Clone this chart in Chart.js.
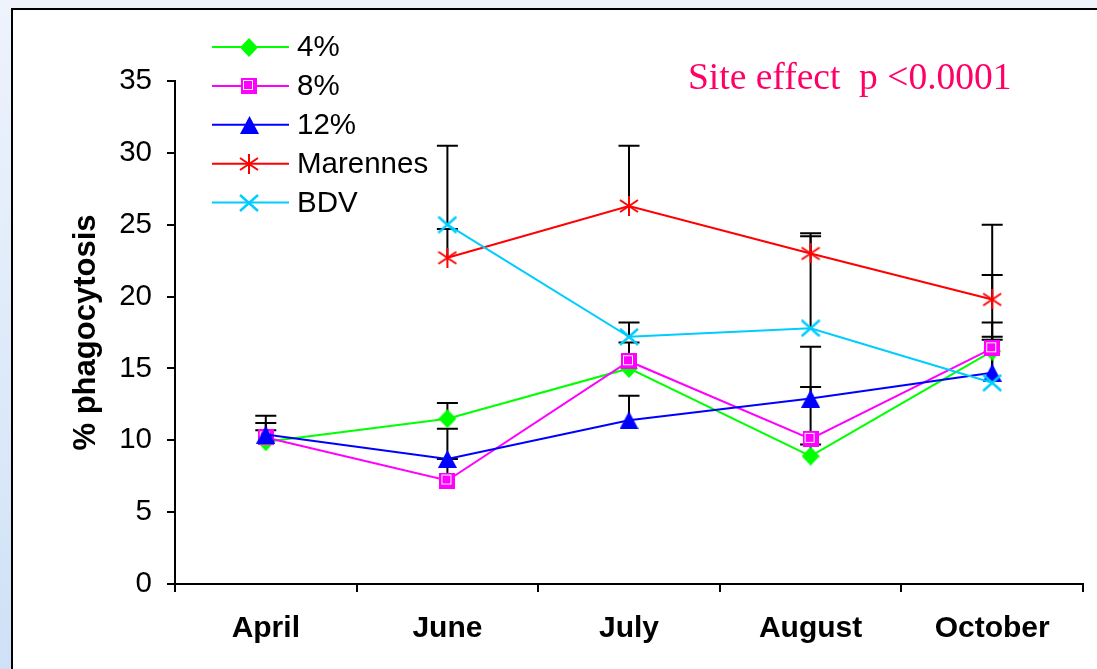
<!DOCTYPE html>
<html lang="en">
<head>
  <meta charset="UTF-8">
  <title>% phagocytosis by month</title>
  <style>
    html, body { margin: 0; padding: 0; width: 1097px; height: 669px; overflow: hidden; }
    body { background: linear-gradient(to bottom, #eef3fc 0%, #dce9f9 60%, #cfe1f7 100%); position: relative; }
    #frame { position: absolute; left: 11px; top: 8px; width: 1200px; height: 800px; background: #fff; border: 2px solid #000; box-shadow: 1px 1px 1px #888; }
    #chart { position: absolute; left: 0; top: 0; }
  </style>
</head>
<body>
  <div id="frame"></div>
  <canvas id="chart" width="1097" height="669"></canvas>

  <script src="https://cdn.jsdelivr.net/npm/chart.js"></script>
  <script>
    // values
    const months = ['April', 'June', 'July', 'August', 'October'];
    const yTicks = [0, 5, 10, 15, 20, 25, 30, 35];

    const pct4 = [9.9, 11.5, 15.0, 8.9, 16.2];
    const pct8 = [10.2, 7.2, 15.5, 10.1, 16.4];
    const pct12 = [10.4, 8.7, 11.4, 12.9, 14.7];
    const marennes = [null, 22.7, 26.3, 23.0, 19.8];
    const bdv = [null, 25.0, 17.2, 17.8, 14.0];

    // top of the (upper) error bars
    const err4 = [11.2, 12.6, null, 9.7, 17.0];
    const err8 = [10.7, 8.7, 16.8, 13.7, 17.2];
    const err12 = [11.7, 10.8, 13.1, 16.5, 18.2];
    const errMarennes = [null, 24.7, 30.5, 24.4, 25.0];
    const errBdv = [null, 30.5, 18.2, 24.2, 21.5];

    const noteText = 'Site effect  p <0.0001';

    Chart.defaults.font.family = '"Liberation Sans", Arial, sans-serif';
    Chart.defaults.color = '#000';

    // marker images (excel style)
    function makeMarker(w, h, draw) {
      const c = document.createElement('canvas');
      c.width = w; c.height = h;
      draw(c.getContext('2d'));
      return c;
    }
    const diamond = makeMarker(18, 19, g => {
      g.fillStyle = '#00ff00';
      g.beginPath(); g.moveTo(9, 0); g.lineTo(18, 9.5); g.lineTo(9, 19); g.lineTo(0, 9.5); g.closePath(); g.fill();
    });
    const square = makeMarker(16, 16, g => {
      g.fillStyle = '#ff00ff'; g.fillRect(0, 0, 16, 16);
      g.strokeStyle = '#fff'; g.lineWidth = 1; g.strokeRect(2.5, 2.5, 9, 9);
    });
    const triangle = makeMarker(19, 18, g => {
      g.fillStyle = '#0000ff';
      g.beginPath(); g.moveTo(9.5, 0); g.lineTo(19, 18); g.lineTo(0, 18); g.closePath(); g.fill();
    });
    const star = makeMarker(20, 20, g => {
      g.strokeStyle = '#ff0000'; g.lineWidth = 2;
      g.beginPath();
      g.moveTo(1, 4); g.lineTo(19, 16);
      g.moveTo(1, 16); g.lineTo(19, 4);
      g.moveTo(10, 0); g.lineTo(10, 20);
      g.stroke();
    });
    const cross = makeMarker(20, 18, g => {
      g.strokeStyle = '#00ccff'; g.lineWidth = 2.4;
      g.beginPath();
      g.moveTo(1, 1); g.lineTo(19, 17);
      g.moveTo(1, 17); g.lineTo(19, 1);
      g.stroke();
    });

    const series = [
      { label: '4%', data: pct4, err: err4, color: '#00ff00', marker: diamond },
      { label: '8%', data: pct8, err: err8, color: '#ff00ff', marker: square },
      { label: '12%', data: pct12, err: err12, color: '#0000ff', marker: triangle },
      { label: 'Marennes', data: marennes, err: errMarennes, color: '#ff0000', marker: star },
      { label: 'BDV', data: bdv, err: errBdv, color: '#00ccff', marker: cross }
    ];

    // error bars, drawn under the lines
    const errorBars = {
      id: 'errorBars',
      beforeDatasetsDraw(chart) {
        const ctx = chart.ctx;
        const x = chart.scales.x, y = chart.scales.y;
        ctx.save();
        ctx.strokeStyle = '#000';
        ctx.lineWidth = 2;
        series.forEach(s => {
          s.err.forEach((top, i) => {
            if (top == null || s.data[i] == null) return;
            const px = x.getPixelForValue(i);
            const y0 = y.getPixelForValue(s.data[i]);
            const y1 = y.getPixelForValue(top);
            ctx.beginPath();
            ctx.moveTo(px, y0); ctx.lineTo(px, y1);
            ctx.moveTo(px - 10.5, y1); ctx.lineTo(px + 10.5, y1);
            ctx.stroke();
          });
        });
        ctx.restore();
      }
    };

    // legend with line + marker, and the p-value note
    const legendAndNote = {
      id: 'legendAndNote',
      afterDraw(chart) {
        const ctx = chart.ctx;
        ctx.save();
        ctx.font = '29.5px "Liberation Sans", Arial, sans-serif';
        ctx.textBaseline = 'middle';
        ctx.textAlign = 'left';
        series.forEach((s, i) => {
          const ly = 47 + i * 38.9;
          ctx.strokeStyle = s.color;
          ctx.lineWidth = 2;
          ctx.beginPath(); ctx.moveTo(212, ly); ctx.lineTo(289, ly); ctx.stroke();
          ctx.drawImage(s.marker, Math.round(249 - s.marker.width / 2), Math.round(ly - s.marker.height / 2));
          ctx.fillStyle = '#000';
          ctx.fillText(s.label, 297, ly + 1);
        });
        ctx.font = '37.5px "Liberation Serif", "Times New Roman", serif';
        ctx.fillStyle = '#ff0066';
        ctx.textBaseline = 'alphabetic';
        ctx.fillText(noteText, 688, 89);
        ctx.restore();
      }
    };

    const ctx = document.getElementById('chart').getContext('2d');
    new Chart(ctx, {
      type: 'line',
      data: {
        labels: months,
        datasets: series.map((s, i) => ({
          label: s.label,
          data: s.data,
          borderColor: s.color,
          backgroundColor: s.color,
          borderWidth: 2,
          pointStyle: s.marker,
          pointRadius: 9,
          tension: 0,
          spanGaps: false,
          order: series.length - i
        }))
      },
      options: {
        responsive: false,
        animation: false,
        devicePixelRatio: 1,
        events: [],
        layout: { padding: { top: 81, right: 14, left: 0, bottom: 0 } },
        plugins: {
          legend: { display: false },
          tooltip: { enabled: false }
        },
        scales: {
          x: {
            type: 'category',
            offset: true,
            grid: { offset: true, drawOnChartArea: false, drawTicks: true, tickLength: 8, color: '#000', lineWidth: 2 },
            border: { display: true, color: '#000', width: 2 },
            ticks: { font: { size: 30, weight: 'bold' }, padding: 19, maxRotation: 0, autoSkip: false, color: '#000' },
            afterFit(scale) { scale.height = 85; }
          },
          y: {
            min: 0,
            max: 35,
            afterBuildTicks(scale) { scale.ticks = yTicks.map(v => ({ value: v })); },
            grid: { drawOnChartArea: false, drawTicks: true, tickLength: 8, color: '#000', lineWidth: 2 },
            border: { display: true, color: '#000', width: 2 },
            ticks: { font: { size: 29.5 }, padding: 15, color: '#000' },
            title: {
              display: true,
              text: '% phagocytosis',
              font: { size: 31, weight: 'bold' },
              color: '#000',
              padding: { top: 68, bottom: 0 }
            },
            afterFit(scale) { scale.width = 175; }
          }
        }
      },
      plugins: [errorBars, legendAndNote]
    });
  </script>
</body>
</html>
